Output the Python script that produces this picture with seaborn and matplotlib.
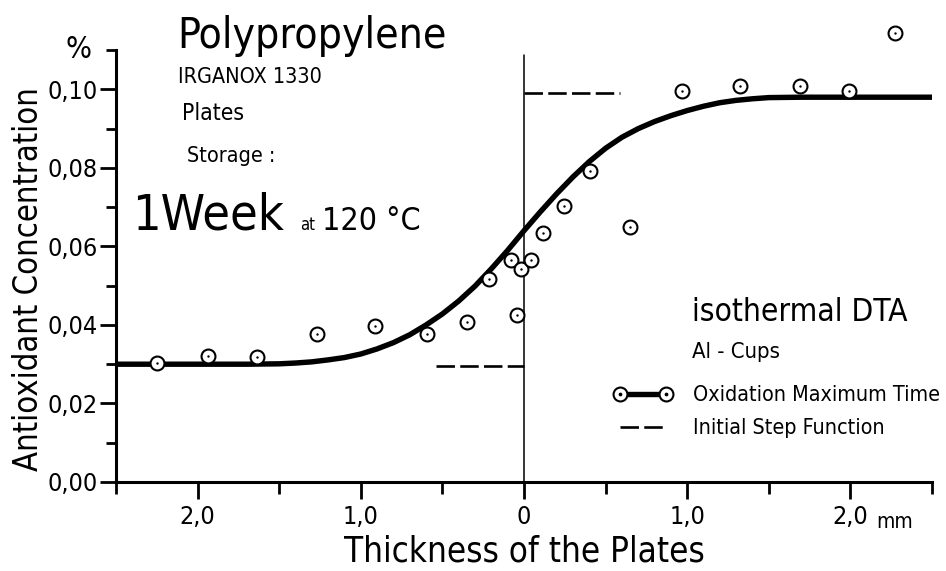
import numpy as np
import pandas as pd
import matplotlib
matplotlib.use("Agg")
import matplotlib.pyplot as plt
import seaborn as sns
from matplotlib.lines import Line2D
from matplotlib.legend_handler import HandlerTuple
from matplotlib.ticker import FixedLocator, MultipleLocator

# ---------------- data ----------------
point_x = [-2.247, -1.937, -1.634, -1.270, -0.912, -0.595, -0.352, -0.213,
           -0.080, -0.018, -0.045, 0.043, 0.118, 0.247, 0.407, 0.648,
           0.969, 1.323, 1.693, 1.992, 2.272]
point_y = [0.0302, 0.0321, 0.0319, 0.0378, 0.0397, 0.0378, 0.0408, 0.0516,
           0.0565, 0.0542, 0.0425, 0.0565, 0.0633, 0.0702, 0.0792, 0.0650,
           0.0995, 0.1008, 0.1009, 0.0996, 0.1144]

curve_x = [-2.50, -2.00, -1.70, -1.50, -1.40, -1.30, -1.20, -1.10, -1.00,
           -0.90, -0.80, -0.70, -0.60, -0.50, -0.40, -0.30, -0.20, -0.10,
           0.00, 0.10, 0.20, 0.30, 0.40, 0.50, 0.60, 0.70, 0.80, 0.90,
           1.00, 1.10, 1.20, 1.30, 1.40, 1.50, 1.70, 2.50]
curve_y = [0.0300, 0.0300, 0.0300, 0.0301, 0.0303, 0.0306, 0.0311, 0.0317, 0.0326,
           0.0339, 0.0355, 0.0375, 0.0400, 0.0428, 0.0461, 0.0499, 0.0543, 0.0590,
           0.0640, 0.0688, 0.0734, 0.0777, 0.0816, 0.0850, 0.0878, 0.0900, 0.0918, 0.0933,
           0.0946, 0.0957, 0.0966, 0.0972, 0.0976, 0.0979, 0.0980, 0.0980]

step_low_x = [-0.54, 0.0]
step_low_y = [0.0296, 0.0296]
step_high_x = [0.0, 0.59]
step_high_y = [0.0990, 0.0990]
divider_x = [0.0, 0.0]
divider_y = [0.0, 0.1087]

xtick_values = [-2.0, -1.0, 0.0, 1.0, 2.0]
xtick_labels = ["2,0", "1,0", "0", "1,0", "2,0"]
ytick_values = [0.00, 0.02, 0.04, 0.06, 0.08, 0.10]
ytick_labels = ["0,00", "0,02", "0,04", "0,06", "0,08", "0,10"]

legend_labels = ["Oxidation Maximum Time", "Initial Step Function"]

# ---------------- style ----------------
sns.set_theme(style="ticks")
plt.rcParams["font.family"] = ["DejaVu Sans"]
plt.rcParams["font.stretch"] = "condensed"
plt.rcParams["axes.linewidth"] = 2.2
for k in ["text.color", "axes.labelcolor", "xtick.color", "ytick.color",
          "axes.edgecolor"]:
    plt.rcParams[k] = "black"

W, H = 946, 571
fig = plt.figure(figsize=(W / 100, H / 100), dpi=100)
fig.patch.set_facecolor("white")


def fx(px):
    return px / W


def fy(py):
    return 1 - py / H


ax = fig.add_axes([fx(116), fy(482), 816 / W, 432.3 / H])
ax.set_facecolor("white")

curve_df = pd.DataFrame({"x": curve_x, "y": curve_y})
pts_df = pd.DataFrame({"x": point_x, "y": point_y})

# divider & step function
sns.lineplot(x=divider_x, y=divider_y, ax=ax, color="black", lw=1.1,
             sort=False, estimator=None, zorder=2)
sns.lineplot(x=step_low_x, y=step_low_y, ax=ax, color="black", lw=1.9,
             sort=False, estimator=None, zorder=2, dashes=False,
             linestyle=(0, (7, 2)))
sns.lineplot(x=step_high_x, y=step_high_y, ax=ax, color="black", lw=1.9,
             sort=False, estimator=None, zorder=2, dashes=False,
             linestyle=(0, (7, 2)))

# smooth curve
sns.lineplot(data=curve_df, x="x", y="y", ax=ax, color="black", lw=3.9,
             sort=False, estimator=None, zorder=3,
             solid_capstyle="butt", solid_joinstyle="round")

# points: open circles with a centre dot
sns.scatterplot(data=pts_df, x="x", y="y", ax=ax, s=100, marker="o",
                facecolor="white", edgecolor="black", linewidth=1.5,
                zorder=4, clip_on=False)
sns.scatterplot(data=pts_df, x="x", y="y", ax=ax, s=3, marker="o",
                color="black", linewidth=0, zorder=5, clip_on=False)

# axes
ax.set_xlim(-2.5, 2.5)
ax.set_ylim(0, 0.1101)
ax.xaxis.set_major_locator(FixedLocator(xtick_values))
ax.set_xticklabels(xtick_labels)
ax.xaxis.set_minor_locator(MultipleLocator(0.5))
ax.yaxis.set_major_locator(FixedLocator(ytick_values))
ax.set_yticklabels(ytick_labels)
ax.yaxis.set_minor_locator(MultipleLocator(0.01))
for s in ["top", "right"]:
    ax.spines[s].set_visible(False)
for s in ["left", "bottom"]:
    ax.spines[s].set_linewidth(2.2)
    ax.spines[s].set_color("black")

ax.tick_params(axis="x", which="major", direction="out", length=12.5, width=2.0,
               pad=4, labelsize=18, color="black", labelcolor="black")
ax.tick_params(axis="x", which="minor", direction="out", length=8.5, width=2.0,
               color="black")
ax.tick_params(axis="y", which="major", direction="out", length=11.5, width=2.0,
               pad=1.5, labelsize=18, color="black", labelcolor="black")
ax.tick_params(axis="y", which="minor", direction="out", length=7, width=2.0,
               color="black")

ax.set_xlabel("Thickness of the Plates", fontsize=25, color="black")
ax.xaxis.label.set_va("baseline")
ax.xaxis.set_label_coords((524 - 116) / 816, (482 - 561) / 432.3)
ax.set_ylabel("Antioxidant Concentration", fontsize=23.5, color="black")
ax.yaxis.label.set_va("center")
ax.yaxis.set_label_coords((29 - 116) / 816, (482 - 279) / 432.3)

# annotations
fig.text(fx(78), fy(50), "%", fontsize=22, ha="center", va="center")
fig.text(fx(177), fy(48), "Polypropylene", fontsize=30.5, ha="left", va="baseline")
fig.text(fx(178), fy(83), "IRGANOX 1330", fontsize=15.5, ha="left", va="baseline")
fig.text(fx(182), fy(120), "Plates", fontsize=16.5, ha="left", va="baseline")
fig.text(fx(187), fy(162), "Storage :", fontsize=15.5, ha="left", va="baseline")
fig.text(fx(132), fy(230), "1Week", fontsize=36, ha="left", va="baseline")
fig.text(fx(300), fy(230), "at", fontsize=12, ha="left", va="baseline")
fig.text(fx(322), fy(230), "120 °C", fontsize=23, ha="left", va="baseline")
fig.text(fx(692), fy(321), "isothermal DTA", fontsize=22.7, ha="left", va="baseline")
fig.text(fx(692), fy(358), "Al - Cups", fontsize=15.8, ha="left", va="baseline")
fig.text(fx(876), fy(528), "mm", fontsize=15, ha="left", va="baseline")

# legend
h_curve = (Line2D([], [], color="black", lw=3.9, marker="o", ms=10,
                  mfc="white", mec="black", mew=1.5),
           Line2D([], [], ls="none", marker="o", ms=1.7, color="black"))
h_step = Line2D([], [], color="black", lw=1.9, ls=(0, (7, 2)))
ax.legend(handles=[h_curve, h_step], labels=legend_labels,
          handler_map={tuple: HandlerTuple(ndivide=1, pad=0)}, numpoints=2,
          frameon=False, fontsize=15.4, handlelength=2.75, handletextpad=0.96,
          labelspacing=0.62, loc="upper left",
          bbox_to_anchor=(fx(613.5), fy(385)), bbox_transform=fig.transFigure,
          borderpad=0, borderaxespad=0)

fig.savefig("out.png", dpi=100, facecolor="white")
